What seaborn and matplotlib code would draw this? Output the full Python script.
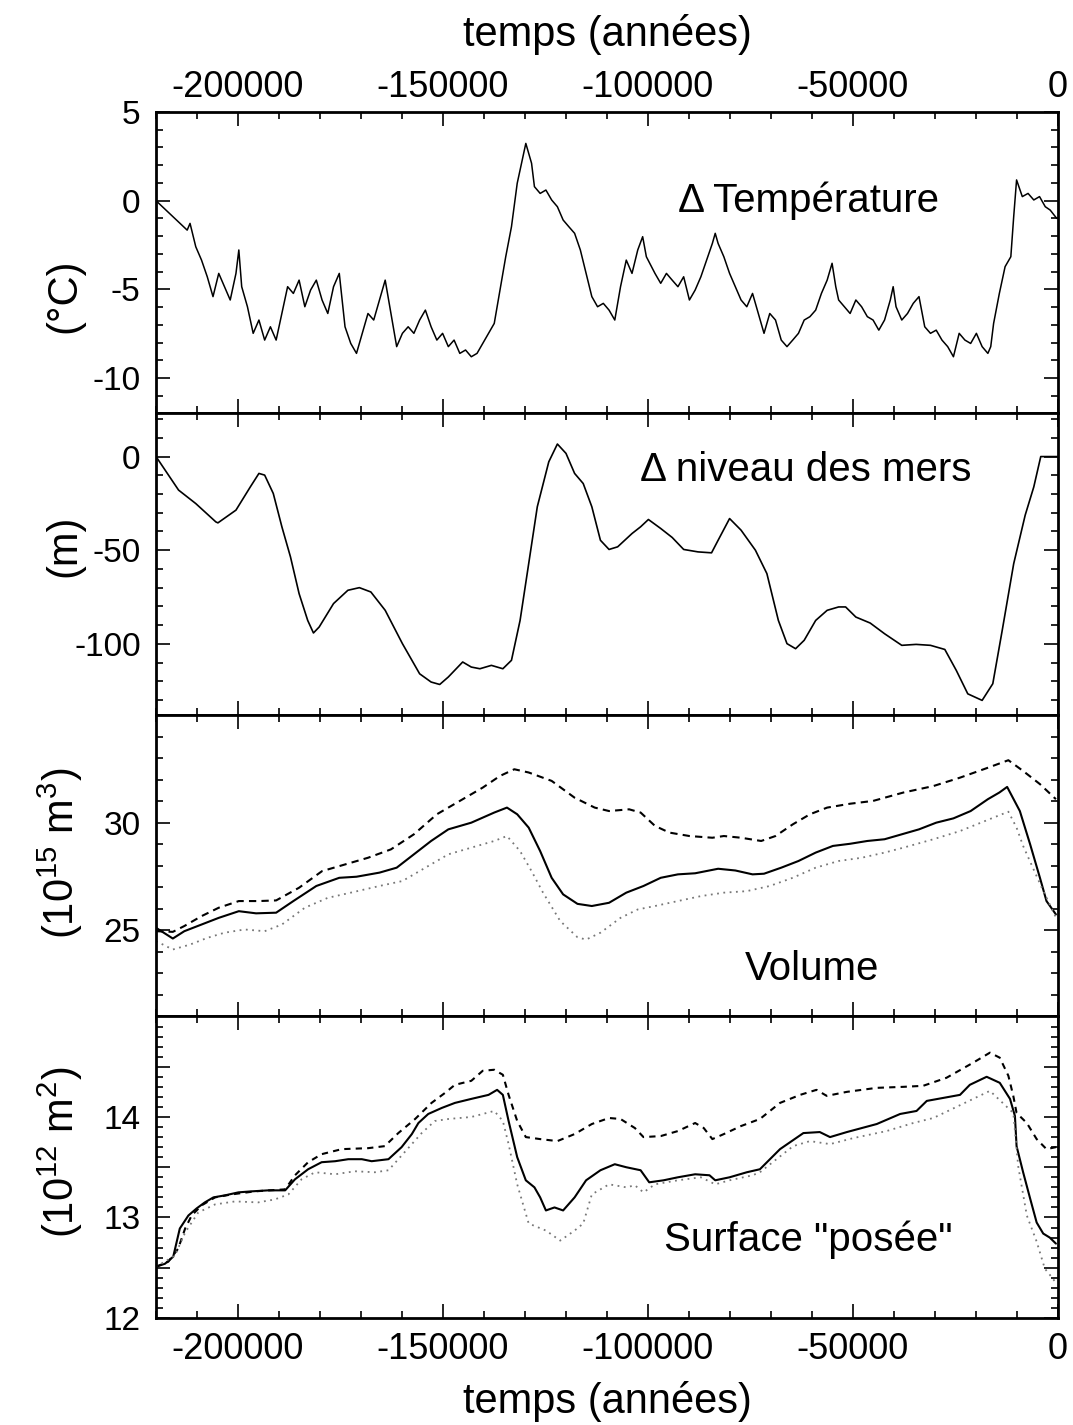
import matplotlib
matplotlib.use("Agg")
import matplotlib.pyplot as plt
import seaborn as sns
from matplotlib.ticker import MultipleLocator, FixedLocator, FuncFormatter

# ---------------- data ----------------
temp_t = [-220000, -212400, -211700, -210300, -208900, -207500, -206100, -204700, -203300, -201900,
          -200500, -199800, -199100, -197700, -196300, -194900, -193500, -192100, -190700, -189300,
          -187900, -186500, -185100, -183700, -182300, -180900, -179500, -178100, -176700, -175300,
          -173900, -172500, -171100, -169700, -168300, -166900, -165500, -164100, -162700, -161300,
          -159900, -158500, -157100, -155700, -154300, -152900, -151500, -150100, -148700, -147300,
          -145900, -144500, -143100, -141700, -140300, -138900, -137500, -136100, -134700, -133300,
          -131900, -130500, -129800, -128400, -127700, -126300, -124900, -123500, -122100, -120700,
          -119300, -117900, -116500, -115100, -113700, -112300, -110900, -109500, -108100, -106700,
          -105300, -103900, -102500, -101300, -100400, -98300, -96900, -95500, -94100, -92700,
          -91300, -89900, -88500, -87100, -85700, -84300, -83600, -82900, -81500, -80100,
          -78700, -77300, -75900, -74500, -73100, -71700, -70300, -68900, -67500, -66100,
          -64700, -63300, -61900, -60500, -59100, -57700, -56300, -55100, -54200, -53500,
          -52100, -50700, -49300, -47900, -46500, -45100, -43700, -42300, -40900, -40200,
          -39500, -38100, -36700, -35300, -33900, -32500, -31100, -29700, -28300, -26900,
          -25500, -24100, -22700, -21300, -19900, -18500, -17100, -16400, -15700, -14300,
          -12900, -11500, -10800, -10100, -8700, -7300, -5900, -4500, -3100, -1900, -300]
temp_v = [0.0, -1.66, -1.28, -2.60, -3.35, -4.29, -5.41, -4.10, -4.85, -5.60,
          -4.10, -2.78, -4.85, -5.98, -7.48, -6.73, -7.86, -7.11, -7.86, -6.36,
          -4.85, -5.23, -4.48, -5.98, -5.04, -4.48, -5.60, -6.36, -4.85, -4.10,
          -7.11, -8.05, -8.61, -7.48, -6.36, -6.73, -5.60, -4.48, -6.36, -8.23,
          -7.48, -7.11, -7.48, -6.73, -6.17, -7.11, -7.86, -7.48, -8.23, -7.86,
          -8.61, -8.42, -8.80, -8.61, -8.05, -7.48, -6.92, -5.04, -3.16, -1.47,
          0.98, 2.48, 3.23, 2.11, 0.79, 0.41, 0.60, 0.04, -0.34, -1.09,
          -1.47, -1.84, -2.78, -4.10, -5.41, -5.98, -5.79, -6.17, -6.73, -4.85,
          -3.35, -4.10, -2.78, -2.03, -3.16, -4.10, -4.66, -4.10, -4.48, -4.85,
          -4.29, -5.60, -5.04, -4.29, -3.35, -2.41, -1.84, -2.41, -3.16, -4.10,
          -4.85, -5.60, -5.98, -5.23, -6.36, -7.48, -6.36, -6.73, -7.86, -8.23,
          -7.86, -7.48, -6.73, -6.54, -6.17, -5.23, -4.48, -3.53, -4.85, -5.60,
          -5.98, -6.36, -5.60, -5.98, -6.54, -6.73, -7.30, -6.73, -5.60, -4.85,
          -5.98, -6.73, -6.36, -5.79, -5.41, -7.11, -7.48, -7.30, -7.86, -8.23,
          -8.80, -7.48, -7.86, -8.05, -7.48, -8.23, -8.61, -8.23, -6.92, -5.23,
          -3.72, -3.16, -0.90, 1.17, 0.23, 0.41, 0.04, 0.23, -0.34, -0.53, -1.0]

sea_t = [-220000, -214500, -210300, -205400, -204900, -200500, -197000, -194900, -193500, -191400,
         -189300, -187200, -185100, -183000, -181600, -180200, -176700, -173200, -170400, -167600,
         -164100, -159900, -155700, -152900, -150800, -148700, -145200, -143100, -141000, -138200,
         -135400, -133300, -131200, -129100, -127000, -124200, -122100, -120000, -117900, -115800,
         -113700, -111600, -109500, -107400, -103900, -101800, -99900, -96900, -94100, -91300,
         -87800, -84500, -82900, -80100, -77300, -73800, -71000, -68200, -66100, -64000,
         -61900, -59100, -56300, -53500, -51800, -49300, -45800, -42300, -38100, -34600,
         -31100, -27600, -24800, -22000, -18500, -15900, -13600, -10800, -8000, -5900,
         -4200, 0]
sea_v = [0.0, -17.9, -25.1, -34.9, -35.4, -28.6, -16.2, -9.0, -9.9, -19.7,
         -37.5, -53.6, -73.2, -87.5, -94.2, -91.0, -78.5, -71.4, -70.0, -72.3,
         -82.1, -99.9, -116.0, -120.4, -121.7, -117.7, -109.7, -112.4, -113.3, -111.5,
         -113.3, -108.8, -87.5, -57.2, -26.8, -2.8, 6.7, 1.7, -9.0, -14.4,
         -26.8, -44.7, -49.6, -48.2, -41.1, -37.5, -33.6, -38.4, -43.2, -49.6,
         -50.9, -51.4, -44.7, -33.1, -39.3, -50.0, -62.5, -87.5, -99.9, -102.6,
         -98.1, -87.5, -82.1, -80.3, -80.3, -85.7, -88.9, -94.6, -100.8, -100.3,
         -100.8, -103.0, -114.2, -126.7, -130.2, -121.3, -92.8, -57.2, -31.3, -16.2,
         0.0, 0.0]

vol_solid_t = [-220000, -215900, -213100, -208900, -204700, -199800, -195600, -190700, -186500, -180900,
               -175300, -171100, -165500, -161300, -157100, -152900, -148700, -143100, -137500, -134400,
               -131900, -129100, -126300, -123500, -120700, -117200, -113700, -109500, -105300, -101100,
               -96900, -92700, -88500, -82900, -78700, -74500, -71700, -67500, -63300, -59100,
               -54900, -50700, -46500, -42300, -38100, -33900, -29700, -25500, -21300, -17100,
               -14300, -12400, -9300, -6800, -4400, -2800, -500]
vol_solid_v = [25.12, 24.62, 24.96, 25.27, 25.58, 25.89, 25.79, 25.82, 26.36, 27.06,
               27.44, 27.49, 27.68, 27.91, 28.53, 29.15, 29.69, 30.00, 30.47, 30.70,
               30.39, 29.77, 28.68, 27.44, 26.67, 26.23, 26.13, 26.28, 26.75, 27.06,
               27.44, 27.60, 27.65, 27.86, 27.78, 27.60, 27.63, 27.91, 28.22, 28.61,
               28.92, 29.02, 29.15, 29.23, 29.46, 29.69, 30.00, 30.20, 30.54, 31.09,
               31.40, 31.66, 30.54, 29.00, 27.44, 26.36, 25.74]

vol_dash_t = [-220000, -215900, -213100, -208900, -204700, -199800, -194900, -190700, -185100, -179500,
              -173900, -168300, -162700, -157100, -151500, -145900, -140300, -136100, -132600, -129100,
              -123500, -117900, -113000, -109500, -104600, -101800, -98300, -94800, -89900, -84300,
              -81500, -77300, -72400, -68900, -64700, -60500, -56300, -50700, -45100, -37700,
              -30400, -23900, -17400, -12100, -8500, -4400, -500]
vol_dash_v = [24.96, 24.93, 25.20, 25.66, 26.05, 26.36, 26.36, 26.39, 26.98, 27.75,
              28.06, 28.37, 28.76, 29.46, 30.39, 31.01, 31.63, 32.17, 32.48, 32.33,
              31.94, 31.16, 30.70, 30.54, 30.62, 30.47, 29.85, 29.54, 29.38, 29.30,
              29.38, 29.30, 29.15, 29.38, 29.92, 30.39, 30.70, 30.88, 31.01, 31.40,
              31.70, 32.09, 32.53, 32.90, 32.40, 31.79, 31.09]

vol_dot_t = [-220000, -215900, -211700, -207500, -203300, -198400, -193500, -189300, -183700, -178100,
             -172500, -165500, -159900, -154300, -148700, -143100, -137500, -134400, -131200, -128400,
             -125600, -121400, -117200, -115100, -111600, -106700, -102500, -98300, -92700, -87100,
             -81500, -75900, -70300, -64700, -59100, -53500, -47900, -42300, -37700, -30400,
             -23900, -15800, -12100, -10100, -8500, -4000, -500]
vol_dot_v = [24.50, 24.11, 24.34, 24.65, 24.89, 25.04, 24.96, 25.27, 26.05, 26.51,
             26.75, 27.06, 27.29, 27.91, 28.53, 28.84, 29.15, 29.38, 28.68, 27.75,
             26.75, 25.43, 24.68, 24.57, 24.89, 25.58, 25.97, 26.13, 26.36, 26.59,
             26.75, 26.82, 27.06, 27.44, 27.91, 28.22, 28.37, 28.61, 28.84, 29.23,
             29.61, 30.23, 30.51, 29.77, 28.92, 27.0, 25.6]

surf_solid_t = [-220000, -217800, -215800, -214200, -212100, -210100, -208100, -206000, -203200, -199900,
                -196700, -192600, -188500, -186100, -182900, -179600, -176300, -173100, -169800, -167400,
                -163300, -160100, -157600, -156000, -153600, -150300, -147100, -143100, -138900, -136800,
                -135400, -134000, -131900, -129800, -127700, -126300, -124900, -122800, -120700, -117900,
                -115100, -111600, -108100, -105300, -101800, -99700, -96200, -92700, -88500, -85000,
                -83600, -80100, -75900, -72700, -67800, -62100, -58100, -55600, -51500, -44200,
                -38500, -34500, -32000, -23900, -21500, -17400, -14200, -11700, -10500, -10100,
                -8500, -6800, -5200, -3600, -2000, -500]
surf_solid_v = [12.51, 12.54, 12.61, 12.89, 13.02, 13.09, 13.15, 13.20, 13.22, 13.25,
                13.26, 13.27, 13.27, 13.38, 13.48, 13.55, 13.56, 13.58, 13.58, 13.56,
                13.58, 13.70, 13.83, 13.94, 14.03, 14.09, 14.14, 14.18, 14.22, 14.27,
                14.22, 13.96, 13.60, 13.37, 13.30, 13.20, 13.07, 13.10, 13.07, 13.20,
                13.37, 13.47, 13.53, 13.50, 13.47, 13.35, 13.37, 13.40, 13.43, 13.42,
                13.37, 13.40, 13.45, 13.48, 13.68, 13.84, 13.85, 13.80, 13.85, 13.93,
                14.03, 14.06, 14.16, 14.22, 14.32, 14.40, 14.34, 14.18, 14.01, 13.71,
                13.45, 13.19, 12.95, 12.84, 12.80, 12.74]

surf_dash_t = [-220000, -217000, -214600, -212900, -211300, -208900, -205600, -201500, -195900, -188500,
               -186100, -182900, -179600, -174700, -168200, -164200, -160900, -156800, -152800, -149500,
               -147100, -143100, -140300, -137500, -135400, -134000, -131900, -129800, -126300, -122100,
               -117900, -113700, -109500, -106700, -103200, -101100, -96900, -92700, -88500, -86400,
               -84300, -81500, -77300, -72700, -67800, -62900, -58900, -56400, -51500, -44200,
               -37700, -32900, -27200, -20700, -16600, -14200, -12100, -10900, -10100, -7600,
               -5200, -2800, -500]
surf_dash_v = [12.51, 12.56, 12.69, 12.89, 13.02, 13.12, 13.20, 13.23, 13.26, 13.28,
               13.42, 13.55, 13.63, 13.68, 13.69, 13.71, 13.84, 13.98, 14.14, 14.24,
               14.32, 14.36, 14.46, 14.47, 14.42, 14.22, 13.96, 13.80, 13.78, 13.76,
               13.83, 13.93, 13.99, 13.98, 13.89, 13.80, 13.81, 13.86, 13.94, 13.89,
               13.78, 13.83, 13.91, 13.98, 14.14, 14.22, 14.27, 14.21, 14.25, 14.29,
               14.30, 14.31, 14.39, 14.54, 14.64, 14.59, 14.41, 14.21, 14.04, 13.94,
               13.78, 13.68, 13.70]

surf_dot_t = [-220000, -215400, -212900, -209700, -205600, -200700, -195100, -191000, -187700, -184500,
              -181200, -176300, -171500, -166600, -163300, -155200, -152000, -148700, -143100, -137500,
              -135400, -134000, -131900, -129100, -124900, -121400, -117900, -115800, -113700, -109500,
              -105300, -103200, -101100, -98300, -92700, -87100, -83600, -80100, -74500, -72700,
              -64600, -60500, -55600, -49900, -41800, -35300, -30400, -16600, -10900, -9700,
              -7600, -5200, -3200, -2000, -500]
surf_dot_v = [12.51, 12.62, 12.85, 13.05, 13.13, 13.16, 13.15, 13.18, 13.23, 13.38,
              13.45, 13.43, 13.46, 13.45, 13.47, 13.84, 13.96, 13.98, 14.00, 14.06,
              13.96, 13.73, 13.33, 12.94, 12.87, 12.77, 12.87, 12.94, 13.23, 13.33,
              13.30, 13.32, 13.25, 13.33, 13.37, 13.40, 13.33, 13.37, 13.42, 13.45,
              13.71, 13.76, 13.73, 13.79, 13.86, 13.94, 13.99, 14.26, 14.04, 13.51,
              13.02, 12.76, 12.49, 12.43, 12.35]

x_label = "temps (années)"
y_labels = ["(\u00b0C)", "(m)", "(10$^{15}$ m$^3$)", "(10$^{12}$ m$^2$)"]
panel_titles = ["\u0394 Température", "\u0394 niveau des mers", "Volume", 'Surface "posée"']

# ---------------- style ----------------
sns.set_style("ticks")
plt.rcParams['font.family'] = ['Liberation Sans', 'DejaVu Sans']
plt.rcParams['axes.unicode_minus'] = False
plt.rcParams['mathtext.fontset'] = 'custom'
plt.rcParams['mathtext.rm'] = 'Liberation Sans'
plt.rcParams['mathtext.it'] = 'Liberation Sans'
for k in ['text.color', 'axes.labelcolor', 'xtick.color', 'ytick.color', 'axes.edgecolor']:
    plt.rcParams[k] = 'black'

XTICK_FS = 26
YTICK_FS = 24
YLAB_FS = 30
TITLE_FS = 29
XLAB_FS = 30

fig = plt.figure(figsize=(10.73, 14.25), dpi=100)
axes = fig.subplots(4, 1, gridspec_kw=dict(hspace=0))
fig.subplots_adjust(left=0.1454, right=0.986, bottom=0.0751, top=0.9214)

ax0, ax1, ax2, ax3 = axes

sns.lineplot(x=temp_t, y=temp_v, ax=ax0, color='k', linewidth=1.1, estimator=None, sort=False)
sns.lineplot(x=sea_t, y=sea_v, ax=ax1, color='k', linewidth=1.2, estimator=None, sort=False)

sns.lineplot(x=vol_dash_t, y=vol_dash_v, ax=ax2, color='k', linewidth=1.5,
             linestyle=(0, (3.5, 2.5)), estimator=None, sort=False)
sns.lineplot(x=vol_solid_t, y=vol_solid_v, ax=ax2, color='k', linewidth=1.5, estimator=None, sort=False)
sns.lineplot(x=vol_dot_t, y=vol_dot_v, ax=ax2, color='#777777', linewidth=1.3,
             linestyle=(0, (1, 2.5)), estimator=None, sort=False)

sns.lineplot(x=surf_dash_t, y=surf_dash_v, ax=ax3, color='k', linewidth=1.5,
             linestyle=(0, (3, 2.5)), estimator=None, sort=False)
sns.lineplot(x=surf_solid_t, y=surf_solid_v, ax=ax3, color='k', linewidth=1.5, estimator=None, sort=False)
sns.lineplot(x=surf_dot_t, y=surf_dot_v, ax=ax3, color='#777777', linewidth=1.3,
             linestyle=(0, (1, 2.5)), estimator=None, sort=False)

ylims = [(-12, 5), (-138, 23), (21, 35), (12, 15)]
ymaj = [MultipleLocator(5), MultipleLocator(50), FixedLocator([25, 30]),
        FixedLocator([12, 12.5, 13, 13.5, 14, 14.5])]
ymin = [MultipleLocator(1), MultipleLocator(10), MultipleLocator(1), MultipleLocator(0.1)]
text_pos = [(0.723, 0.707), (0.72, 0.814), (0.727, 0.158), (0.723, 0.258)]
ylab_y = [0.39, 0.56, 0.54, 0.55]

int_fmt = FuncFormatter(lambda v, p: f"{int(round(v))}" if abs(v - round(v)) < 1e-6 else "")

for i, ax in enumerate(axes):
    ax.set_xlim(-220000, 0)
    ax.set_ylim(*ylims[i])
    ax.xaxis.set_major_locator(MultipleLocator(50000))
    ax.xaxis.set_minor_locator(MultipleLocator(10000))
    ax.xaxis.set_major_formatter(FuncFormatter(lambda v, p: f"{int(round(v))}"))
    ax.yaxis.set_major_locator(ymaj[i])
    ax.yaxis.set_minor_locator(ymin[i])
    ax.yaxis.set_major_formatter(int_fmt)
    ax.tick_params(which='both', direction='in', top=True, right=True, width=1.2, colors='k')
    ax.tick_params(axis='x', which='major', labelsize=XTICK_FS, length=10, pad=10)
    ax.tick_params(axis='y', which='major', labelsize=YTICK_FS, length=10, pad=11)
    ax.tick_params(which='minor', length=5)
    for s in ax.spines.values():
        s.set_linewidth(2.0)
        s.set_color('k')
    ax.set_xlabel("")
    ax.set_ylabel(y_labels[i], fontsize=YLAB_FS)
    ax.yaxis.set_label_coords(-0.079, ylab_y[i])
    ax.text(text_pos[i][0], text_pos[i][1], panel_titles[i], transform=ax.transAxes,
            ha='center', va='center', fontsize=TITLE_FS)
    ax.tick_params(labelbottom=False, labeltop=False)

ax0.tick_params(labeltop=True)
ax0.tick_params(axis='x', which='major', pad=5)
ax0.xaxis.set_label_position('top')
ax0.set_xlabel(x_label, fontsize=XLAB_FS, labelpad=17)
ax3.tick_params(labelbottom=True)
ax3.set_xlabel(x_label, fontsize=XLAB_FS, labelpad=10)

fig.savefig("out.png", dpi=100)
